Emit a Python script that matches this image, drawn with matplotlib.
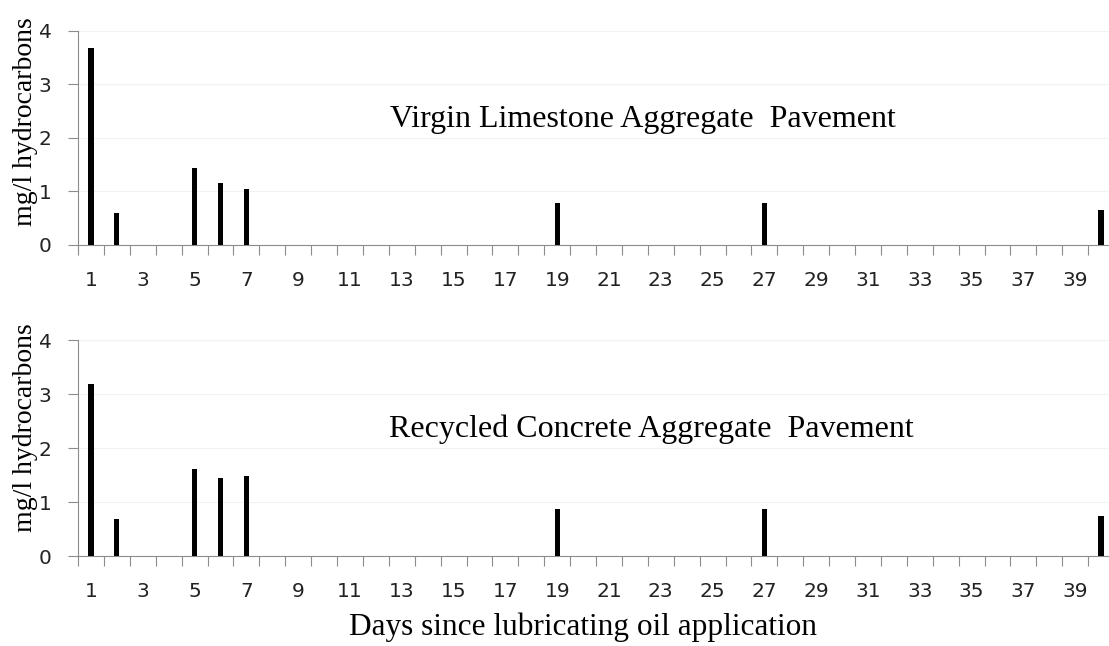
import numpy as np
import matplotlib.pyplot as plt

days = [1, 2, 5, 6, 7, 19, 27, 40]
virgin = [3.69, 0.60, 1.43, 1.16, 1.04, 0.79, 0.79, 0.65]
recycled = [3.18, 0.69, 1.62, 1.45, 1.48, 0.87, 0.87, 0.74]
tick_days = np.arange(1, 40, 2)
titles = ["Virgin Limestone Aggregate  Pavement",
          "Recycled Concrete Aggregate  Pavement"]

W, H = 1109, 646
fig = plt.figure(figsize=(W / 100, H / 100), dpi=100)

# panel boxes in pixels: left, top, right, bottom
boxes = [(78, 31, 1114, 245), (78, 340, 1114, 556)]
title_pos = [(643, 120), (651, 429)]
ylabel_y = [122, 428]
serif = "Liberation Serif"
axis_grey = "#8c8c8c"

for (l, t, r, b), vals, title, (tx, ty), yl in zip(boxes, [virgin, recycled], titles,
                                                   title_pos, ylabel_y):
    ax = fig.add_axes([l / W, 1 - b / H, (r - l) / W, (b - t) / H])
    ax.bar(days, vals, width=0.2, color="black", zorder=3)
    ax.set_xlim(0.5, 40.5)
    ax.set_ylim(0, 4)
    ax.set_yticks([0, 1, 2, 3, 4])
    ax.yaxis.grid(True, color="#f2f2f2", lw=0.8, zorder=0)
    ax.set_xticks(tick_days)
    ax.set_xticklabels([str(d) for d in tick_days])
    ax.set_xticks(np.arange(0.5, 41, 1), minor=True)
    ax.tick_params(axis="x", which="major", length=0, pad=19,
                   labelsize=14.5, labelcolor="#222222")
    ax.tick_params(axis="x", which="minor", length=7, width=0.8,
                   color=axis_grey, direction="out")
    ax.tick_params(axis="y", length=7, width=0.8, color=axis_grey,
                   pad=12, labelsize=14.5, labelcolor="#222222")
    for s in ["top", "right"]:
        ax.spines[s].set_visible(False)
    for s in ["left", "bottom"]:
        ax.spines[s].set_color(axis_grey)
        ax.spines[s].set_linewidth(0.8)
    fig.text(26 / W, 1 - yl / H, "mg/l hydrocarbons", family=serif,
             fontsize=20, rotation=90, ha="center", va="center")
    fig.text(tx / W, 1 - ty / H, title, family=serif,
             fontsize=23, ha="center", va="center")

fig.text(583 / W, 1 - 627 / H, "Days since lubricating oil application",
         family=serif, fontsize=22.5, ha="center", va="center")

fig.savefig("out.png", dpi=100)
